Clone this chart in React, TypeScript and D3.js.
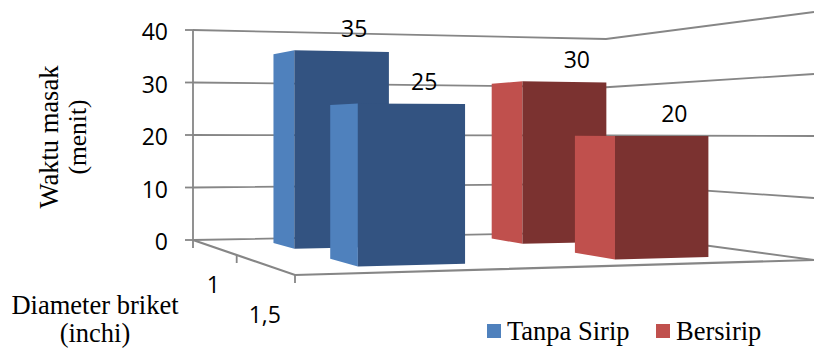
import React from "react";
import * as d3 from "d3";

const categories = ["1", "1,5"];
const seriesNames = ["Tanpa Sirip", "Bersirip"];
const tanpaSirip = [35, 25];
const bersirip = [30, 20];
const valueTicks = [0, 10, 20, 30, 40];

const lightColors = ["#4F81BD", "#C0504D"];
const darkColors = ["#335381", "#7B3230"];
const gridColor = "#868686";
const labelFont = "'Open Sans', sans-serif";
const titleFont = "'Liberation Serif', serif";

// Floor corners on screen: back-left, back-right, front-right, front-left.
const floor = { bl: [193, 240], br: [606, 232], fr: [814, 260], fl: [295, 275] };
// Full 0-40 wall height on screen at three of those corners.
const wallHeight = { bl: 210, br: 193, fr: 248 };

// Perspective map of the unit floor square (u across, w towards the viewer).
function makeProjection() {
  const [x0, y0] = floor.bl, [x1, y1] = floor.br, [x2, y2] = floor.fr, [x3, y3] = floor.fl;
  const dx1 = x1 - x2, dx2 = x3 - x2, sx = x0 - x1 + x2 - x3;
  const dy1 = y1 - y2, dy2 = y3 - y2, sy = y0 - y1 + y2 - y3;
  const den = dx1 * dy2 - dx2 * dy1;
  const g = (sx * dy2 - dx2 * sy) / den;
  const h = (dx1 * sy - sx * dy1) / den;
  const a = x1 * (1 + g) - x0, b = x3 * (1 + h) - x0;
  const c = y1 * (1 + g) - y0, e = y3 * (1 + h) - y0;
  const i0 = 1 / wallHeight.bl;
  const iu = 1 / wallHeight.br - i0;
  const iw = 1 / wallHeight.fr - 1 / wallHeight.br;
  return (u: number, w: number, v: number): [number, number] => {
    const d = 1 + g * u + h * w;
    const height = 1 / (i0 + iu * u + iw * w);
    return [(a * u + b * w + x0) / d, (c * u + e * w + y0) / d - height * valueScale(v)];
  };
}

const valueScale = d3.scaleLinear().domain([0, 40]).range([0, 1]);
const project = makeProjection();

const bandX = d3.scaleBand<string>().domain(seriesNames).range([-0.006, 0.994]).paddingInner(0.6).paddingOuter(0.3);
const bandZ = d3.scaleBand<string>().domain(categories).range([0.01, 1.01]).paddingInner(0.6).paddingOuter(0.3);

const polyline = d3.line<[number, number]>();
const pathOf = (pts: [number, number][]) => polyline(pts) as string;

const values = [tanpaSirip, bersirip];

// Back row first so the front row paints over it.
const bars = categories.flatMap((cat, ci) =>
  seriesNames.map((name, si) => {
    const u0 = bandX(name)!, u1 = u0 + bandX.bandwidth();
    const w0 = bandZ(cat)!, w1 = w0 + bandZ.bandwidth();
    return { key: `${cat}-${name}`, si, value: values[si][ci], u0, u1, w0, w1 };
  })
);

export default function App() {
  return (
    <svg
      width={814}
      height={352}
      viewBox="0 0 814 352"
      style={{ position: "absolute", left: 0, top: 0, background: "#fff" }}
    >
      {/* Gridlines running along the back and right walls */}
      {valueTicks.map((t) => (
        <path
          key={t}
          d={pathOf([project(0, 0, t), project(1, 0, t), project(1, 1, t)])}
          fill="none"
          stroke={gridColor}
          strokeWidth={1.8}
        />
      ))}

      {/* Floor edges */}
      <path
        d={pathOf([project(0, 0, 0), project(0, 1, 0), project(1, 1, 0)])}
        fill="none"
        stroke={gridColor}
        strokeWidth={2.2}
      />

      {/* Value axis with outward ticks */}
      <path d={pathOf([[193, project(0, 0, 40)[1]], [193, project(0, 0, 0)[1] + 8]])} stroke={gridColor} strokeWidth={1.8} fill="none" />
      {valueTicks.map((t) => {
        const [x, y] = project(0, 0, t);
        return (
          <g key={t}>
            <line x1={x - 8} x2={x} y1={y} y2={y} stroke={gridColor} strokeWidth={1.8} />
            <text x={168} y={y + 10} textAnchor="end" fontFamily={labelFont} fontSize={23} fill="#000">
              {t}
            </text>
          </g>
        );
      })}

      {/* Depth axis ticks and category labels */}
      {[0.5, 1].map((w) => {
        const [x, y] = project(0, w, 0);
        return <line key={w} x1={x} x2={x} y1={y} y2={y + 8} stroke={gridColor} strokeWidth={1.8} />;
      })}
      {categories.map((c, i) => {
        const w = bandZ(c)! + bandZ.bandwidth() / 2;
        const [x, y] = project(0, w, 0);
        return (
          <text key={c} x={x + (i === 0 ? -1 : 0)} y={y + (i === 0 ? 46 : 58)} textAnchor="middle" fontFamily={labelFont} fontSize={23} fill="#000">
            {c}
          </text>
        );
      })}

      {/* Columns: side face and front face */}
      {bars.map((b) => (
        <g key={b.key}>
          <path
            d={pathOf([project(b.u0, b.w0, 0), project(b.u0, b.w1, 0), project(b.u0, b.w1, b.value), project(b.u0, b.w0, b.value)]) + "Z"}
            fill={lightColors[b.si]}
          />
          <path
            d={pathOf([project(b.u0, b.w1, 0), project(b.u1, b.w1, 0), project(b.u1, b.w1, b.value), project(b.u0, b.w1, b.value)]) + "Z"}
            fill={darkColors[b.si]}
          />
        </g>
      ))}

      {/* Value labels above each column */}
      {bars.map((b) => {
        const [x, y] = project((b.u0 + b.u1) / 2, b.w1, b.value);
        return (
          <text key={b.key} x={x + 12} y={y - 14} textAnchor="middle" fontFamily={labelFont} fontSize={23} fill="#000">
            {b.value}
          </text>
        );
      })}

      {/* Axis titles */}
      <g fontFamily={titleFont} fontSize={26.5} fill="#000" textAnchor="middle">
        <text transform="translate(58,137) rotate(-90)">Waktu masak</text>
        <text transform="translate(86,137) rotate(-90)" fontSize={25.5}>(menit)</text>
        <text x={95} y={314}>Diameter briket</text>
        <text x={95} y={342}>(inchi)</text>
      </g>

      {/* Legend */}
      {seriesNames.map((name, i) => {
        const x = i === 0 ? 487 : 656;
        return (
          <g key={name}>
            <rect x={x} y={324} width={14} height={14} fill={lightColors[i]} />
            <text x={x + 20} y={340} fontFamily={titleFont} fontSize={26.5} fill="#000">
              {name}
            </text>
          </g>
        );
      })}
    </svg>
  );
}
